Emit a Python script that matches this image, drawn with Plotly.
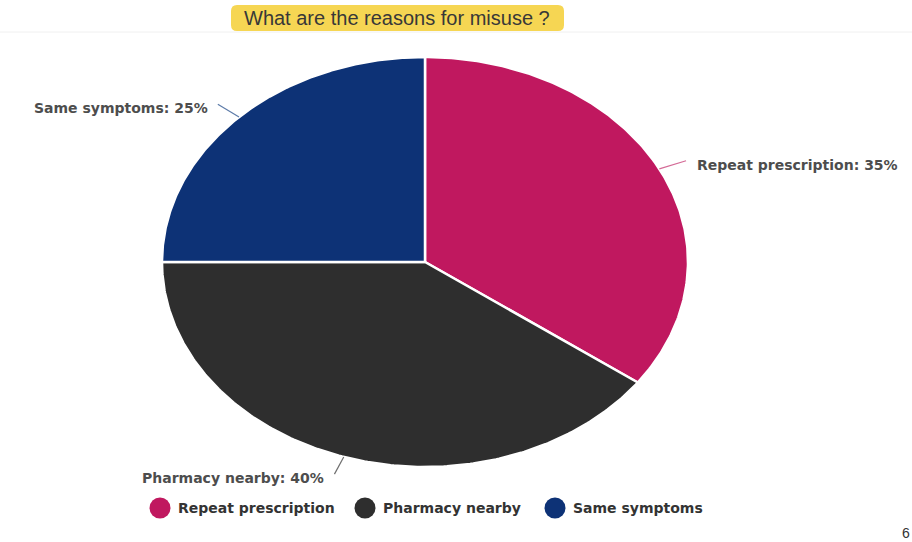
import numpy as np
import plotly.graph_objects as go

# Survey answers
categories = ["Repeat prescription", "Pharmacy nearby", "Same symptoms"]
shares = [35, 40, 25]
colors = ["#C0185F", "#2E2E2E", "#0D3276"]
line_colors = ["#D46A96", "#6E6E6E", "#5C7BA8"]
title_text = "What are the reasons for misuse ?"

W, H = 912, 542
CX, CY = 425, 262          # pie centre (pixels)
RX, RY = 263, 205          # pie radii (pixels)

fig = go.Figure()

total = sum(shares)
start = 0.0
label_font = dict(family="DejaVu Sans, sans-serif", size=14, color="#4D4D4D")
annotations = []
for name, val, col, lcol in zip(categories, shares, colors, line_colors):
    sweep = 2 * np.pi * val / total
    t = np.linspace(start, start + sweep, 200)
    xs = np.concatenate([[CX], CX + RX * np.sin(t), [CX]])
    ys = np.concatenate([[CY], CY - RY * np.cos(t), [CY]])
    fig.add_trace(go.Scatter(
        x=xs, y=ys, mode="lines", fill="toself", fillcolor=col,
        line=dict(color="white", width=2.5), showlegend=False,
        hoverinfo="text", text=f"{name}: {val}%",
    ))
    # leader line from the middle of the arc
    mid = start + sweep / 2
    sx, sy = CX + RX * np.sin(mid), CY - RY * np.cos(mid)
    ex, ey = CX + (RX + 30) * np.sin(mid), CY - (RY + 18) * np.cos(mid)
    fig.add_trace(go.Scatter(
        x=[sx, ex], y=[sy, ey], mode="lines",
        line=dict(color=lcol, width=1.2), showlegend=False, hoverinfo="skip",
    ))
    right = np.sin(mid) >= 0
    annotations.append(dict(
        x=ex + (9 if right else -8), y=ey + 4,
        xref="x", yref="y", text=f"<b>{name}: {val}%</b>", showarrow=False,
        xanchor="left" if right else "right", yanchor="middle", font=label_font,
    ))
    start += sweep

# legend drawn as markers with labels
legend_x = [160, 365, 555]
legend_y = 508
fig.add_trace(go.Scatter(
    x=legend_x, y=[legend_y] * len(categories), mode="markers",
    marker=dict(color=colors, size=21, symbol="circle", line=dict(width=0)),
    showlegend=False, hoverinfo="text", text=categories,
))
for name, lx in zip(categories, legend_x):
    annotations.append(dict(
        x=lx + 16, y=legend_y, xref="x", yref="y", text=f"<b>{name}</b>",
        showarrow=False, xanchor="left", yanchor="middle",
        font=dict(family="DejaVu Sans, sans-serif", size=14, color="#333333"),
    ))

# title with highlight box
annotations.append(dict(
    x=397, y=18, xref="x", yref="y", text=title_text, showarrow=False,
    font=dict(family="Liberation Sans, Arial, sans-serif", size=20, color="#383838"),
    xanchor="center", yanchor="middle",
))
annotations.append(dict(
    x=906, y=533, xref="x", yref="y", text="6", showarrow=False,
    font=dict(family="Liberation Sans, Arial, sans-serif", size=14, color="#333333"),
    xanchor="center", yanchor="middle",
))

x0, x1, y0, y1, r = 231, 564, 5, 31, 6
title_box = (f"M{x0+r},{y0} L{x1-r},{y0} Q{x1},{y0} {x1},{y0+r} L{x1},{y1-r} "
             f"Q{x1},{y1} {x1-r},{y1} L{x0+r},{y1} Q{x0},{y1} {x0},{y1-r} "
             f"L{x0},{y0+r} Q{x0},{y0} {x0+r},{y0} Z")

fig.update_layout(
    width=W, height=H,
    margin=dict(l=0, r=0, t=0, b=0),
    paper_bgcolor="white", plot_bgcolor="white",
    xaxis=dict(range=[0, W], visible=False, fixedrange=True),
    yaxis=dict(range=[H, 0], visible=False, fixedrange=True),
    annotations=annotations,
    shapes=[
        dict(type="path", path=title_box, xref="x", yref="y",
             fillcolor="#F6D653", line=dict(width=0), layer="below"),
        dict(type="line", x0=0, x1=W, y0=32, y1=32, xref="x", yref="y",
             line=dict(color="#F0F0F0", width=1), layer="below"),
    ],
    showlegend=False,
)

fig.write_html("out.html")
